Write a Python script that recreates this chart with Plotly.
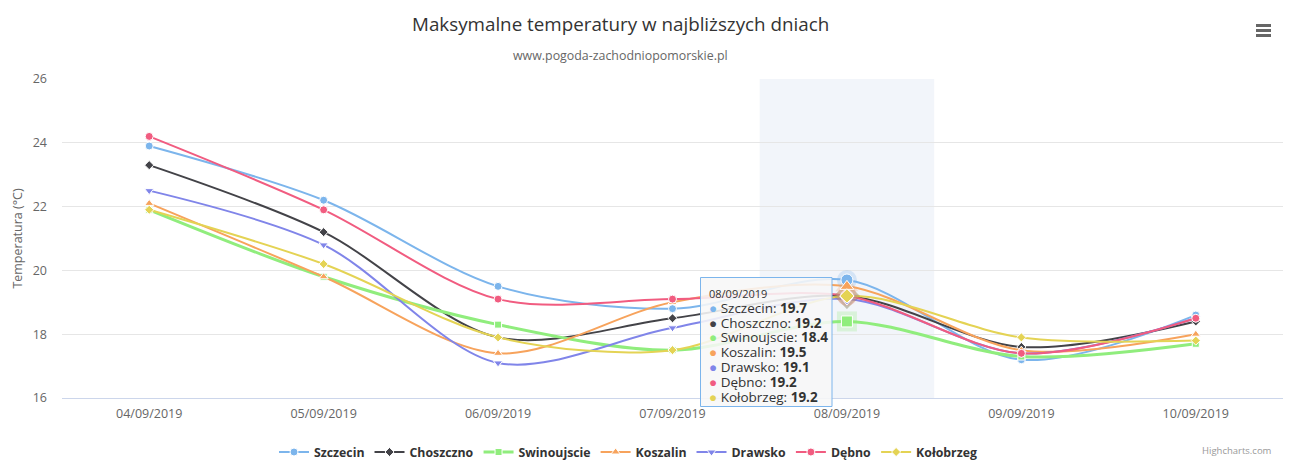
import plotly.graph_objects as go

dates = ["04/09/2019", "05/09/2019", "06/09/2019", "07/09/2019", "08/09/2019", "09/09/2019", "10/09/2019"]
szczecin = [23.9, 22.2, 19.5, 18.8, 19.7, 17.2, 18.6]
choszczno = [23.3, 21.2, 17.9, 18.5, 19.2, 17.6, 18.4]
swinoujscie = [21.9, 19.8, 18.3, 17.5, 18.4, 17.3, 17.7]
koszalin = [22.1, 19.8, 17.4, 19.0, 19.5, 17.5, 18.0]
drawsko = [22.5, 20.8, 17.1, 18.2, 19.1, 17.4, 18.5]
debno = [24.2, 21.9, 19.1, 19.1, 19.2, 17.4, 18.5]
kolobrzeg = [21.9, 20.2, 17.9, 17.5, 19.2, 17.9, 17.8]

names = ["Szczecin", "Choszczno", "Swinoujscie", "Koszalin", "Drawsko", "Dębno", "Kołobrzeg"]
series = [szczecin, choszczno, swinoujscie, koszalin, drawsko, debno, kolobrzeg]
colors = ["#7cb5ec", "#434348", "#90ed7d", "#f7a35c", "#8085e9", "#f15c80", "#e4d354"]
symbols = ["circle", "diamond", "square", "triangle-up", "triangle-down", "circle", "diamond"]
sizes = {"circle": 8, "diamond": 7, "square": 7, "triangle-up": 8, "triangle-down": 8}
hover_idx = 4

FONT = "Open Sans"
L, R, T, B = 62, 7, 79, 70
W, H = 1290, 468
PW, PH = W - L - R, H - T - B


def px(xp):
    return (xp - L) / PW


def py(yp):
    return (H - B - yp) / PH


fig = go.Figure()

# hover band
fig.add_shape(type="rect", xref="x", yref="paper", x0=hover_idx - 0.5, x1=hover_idx + 0.5,
              y0=0, y1=1, fillcolor="rgba(204,214,235,0.25)", line_width=0, layer="below")

for name, vals, col, sym in zip(names, series, colors, symbols):
    w = 3 if name == "Swinoujscie" else 2
    fig.add_trace(go.Scatter(
        x=dates, y=vals, name=name, mode="lines+markers",
        line=dict(color=col, width=w, shape="spline", smoothing=0.9),
        marker=dict(symbol=sym, size=sizes[sym], color=col, line=dict(color="white", width=1)),
        hoverinfo="skip"))

# hovered points halos
for name, vals, col, sym in zip(names, series, colors, symbols):
    fig.add_trace(go.Scatter(
        x=[dates[hover_idx]], y=[vals[hover_idx]], mode="markers", showlegend=False,
        marker=dict(symbol=sym, size=20, color=col, opacity=0.25, line=dict(width=0)),
        hoverinfo="skip"))
for name, vals, col, sym in zip(names, series, colors, symbols):
    fig.add_trace(go.Scatter(
        x=[dates[hover_idx]], y=[vals[hover_idx]], mode="markers", showlegend=False,
        marker=dict(symbol=sym, size=sizes[sym] + 4, color=col, line=dict(color="white", width=1)),
        hoverinfo="skip"))

# tooltip box
fig.add_shape(type="rect", xref="paper", yref="paper", x0=px(700.5), x1=px(832), y0=py(277.5), y1=py(406.5),
              fillcolor="rgba(247,247,247,0.88)", line=dict(color="#7cb5ec", width=1), layer="above")
tip_lines = ['<span style="font-size:11px">%s</span>' % dates[hover_idx]]
for name, vals, col in zip(names, series, colors):
    tip_lines.append('<span style="font-size:13.5px"><span style="color:%s">●</span> %s: <b>%s</b></span>'
                     % (col, name, vals[hover_idx]))
fig.add_annotation(xref="paper", yref="paper", x=px(706.5), y=py(345.5), xanchor="left", yanchor="middle",
                   align="left", text="<br>".join(tip_lines), showarrow=False,
                   font=dict(family=FONT, size=11.4, color="#333333"))

# title / subtitle
fig.add_annotation(xref="paper", yref="paper", x=px(620), y=py(24),
                   text="Maksymalne temperatury w najbliższych dniach", showarrow=False,
                   font=dict(family=FONT, size=18.8, color="#333333"), xanchor="center", yanchor="middle")
fig.add_annotation(xref="paper", yref="paper", x=px(620), y=py(56),
                   text="www.pogoda-zachodniopomorskie.pl", showarrow=False,
                   font=dict(family=FONT, size=12.4, color="#666666"), xanchor="center", yanchor="middle")
# credits
fig.add_annotation(xref="paper", yref="paper", x=px(1274), y=py(450),
                   text="Highcharts.com", showarrow=False,
                   font=dict(family=FONT, size=9.5, color="#999999"), xanchor="right", yanchor="middle")
# menu icon
for yy in (25.5, 30.5, 35.5):
    fig.add_shape(type="line", xref="paper", yref="paper",
                  x0=px(1256), x1=px(1271), y0=py(yy), y1=py(yy),
                  line=dict(color="#666666", width=3))

fig.update_layout(
    width=W, height=H,
    margin=dict(l=L, r=R, t=T, b=B, autoexpand=False),
    paper_bgcolor="white", plot_bgcolor="white",
    font=dict(family=FONT, color="#666666"),
    showlegend=True,
    legend=dict(orientation="h", xref="container", yref="container", x=628 / W, xanchor="center",
                y=(H - 452) / H, yanchor="middle",
                font=dict(family=FONT, size=12.3, color="#333333", weight="bold"),
                itemwidth=30, tracegroupgap=0),
    xaxis=dict(type="category", showgrid=False, showline=True, linecolor="#ccd6eb", linewidth=1,
               ticks="", tickfont=dict(size=12.5, color="#666666"), zeroline=False,
               range=[-0.5, 6.5], fixedrange=True, automargin=False, ticklabelstandoff=4),
    yaxis=dict(range=[16, 26], dtick=2, showgrid=True, gridcolor="#e6e6e6", gridwidth=1,
               zeroline=False, showline=False, tickfont=dict(size=12.5, color="#666666"),
               title=dict(text="Temperatura (°C)", font=dict(size=12.5, color="#666666"), standoff=7),
               automargin=False, ticklabelstandoff=14, fixedrange=True),
)

fig.write_html("out.html", config={"displayModeBar": False},
               post_script="document.body.style.margin='0';document.body.style.overflow='hidden';")
